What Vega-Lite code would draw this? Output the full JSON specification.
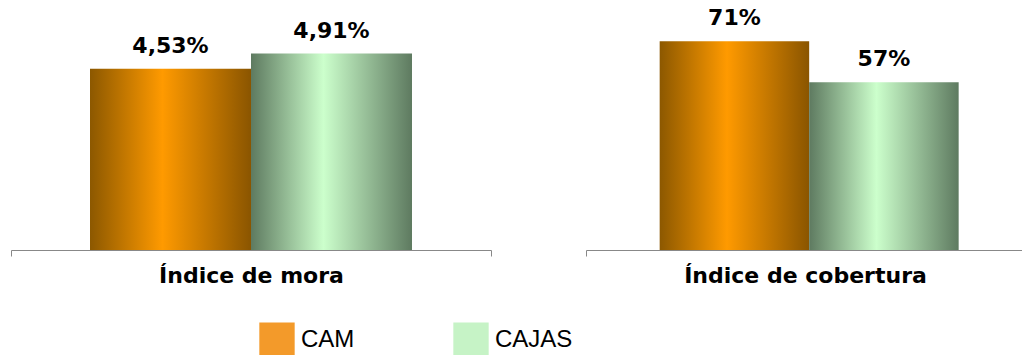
{
  "$schema": "https://vega.github.io/schema/vega-lite/v6.json",
  "padding": {"left": 10, "top": 7, "right": 0, "bottom": 0},
  "background": "white",
  "config": {"view": {"stroke": null}, "font": "DejaVu Sans"},
  "resolve": {"scale": {"x": "independent", "xOffset": "independent", "y": "independent"}},
  "data": {"values": [
    {"indicador": "Índice de mora", "serie": "CAM", "valor": 4.53, "etiqueta": "4,53%"},
    {"indicador": "Índice de mora", "serie": "CAJAS", "valor": 4.91, "etiqueta": "4,91%"},
    {"indicador": "Índice de cobertura", "serie": "CAM", "valor": 71, "etiqueta": "71%"},
    {"indicador": "Índice de cobertura", "serie": "CAJAS", "valor": 57, "etiqueta": "57%"}
  ]},
  "spacing": 93,
  "hconcat": [
    {
      "width": 480, "height": 240,
      "transform": [{"filter": "datum.indicador === 'Índice de mora'"}],
      "encoding": {
        "x": {"field": "indicador", "type": "nominal", "scale": {"paddingInner": 0, "paddingOuter": 0},
          "axis": {"title": null, "labelAngle": 0, "tickBand": "extent", "domainColor": "#888888", "tickColor": "#888888", "tickSize": 6, "labelFont": "DejaVu Sans", "labelFontWeight": "bold", "labelFontSize": 22, "labelColor": "#000000", "labelPadding": 9, "labelLimit": 400}},
        "xOffset": {"field": "serie", "type": "nominal", "sort": ["CAM", "CAJAS"], "scale": {"domain": ["CAM", "CAJAS"], "paddingInner": 0, "paddingOuter": 0.4907}},
        "y": {"field": "valor", "type": "quantitative", "scale": {"domain": [0, 6]}, "axis": null}
      },
      "layer": [
        {
          "mark": {"type": "bar"},
          "encoding": {
            "color": {
              "field": "serie", "type": "nominal",
              "scale": {"domain": ["CAM", "CAJAS"], "range": ["#f39a2a", "#c6f3c6"]},
              "condition": [
                {"test": "datum.serie === 'CAM'", "value": {"gradient": "linear", "x1": 0, "y1": 0, "x2": 1, "y2": 0, "stops": [{"offset": 0, "color": "#8c5800"}, {"offset": 0.45, "color": "#ff9a00"}, {"offset": 1, "color": "#8a5500"}]}},
                {"test": "datum.serie === 'CAJAS'", "value": {"gradient": "linear", "x1": 0, "y1": 0, "x2": 1, "y2": 0, "stops": [{"offset": 0, "color": "#5e7a60"}, {"offset": 0.45, "color": "#ccffcc"}, {"offset": 1, "color": "#5e7a60"}]}}
              ],
              "legend": {
                "orient": "none", "legendX": 248, "legendY": 312, "direction": "horizontal", "title": null,
                "symbolType": "square", "symbolSize": 1250, "symbolStrokeWidth": 0, "symbolOpacity": 1,
                "labelFont": "Liberation Sans", "labelFontSize": 24, "labelColor": "#000000", "labelOffset": 6,
                "columnPadding": 98,
                "encode": {"symbols": {"update": {"fill": [
                  {"test": "datum.value === 'CAM'", "value": {"gradient": "linear", "x1": 0, "y1": 0, "x2": 1, "y2": 0, "stops": [{"offset": 0, "color": "#c46e1a"}, {"offset": 0.5, "color": "#ff9a30"}, {"offset": 1, "color": "#c46e1a"}]}},
                  {"value": {"gradient": "linear", "x1": 0, "y1": 0, "x2": 1, "y2": 0, "stops": [{"offset": 0, "color": "#b5e6b5"}, {"offset": 0.5, "color": "#ccffcc"}, {"offset": 1, "color": "#b5e6b5"}]}}
                ]}}}
              }
            }
          }
        },
        {
          "mark": {"type": "text", "baseline": "alphabetic", "dy": -16, "fontSize": 22, "fontWeight": "bold", "font": "DejaVu Sans", "color": "#000000"},
          "encoding": {"text": {"field": "etiqueta", "type": "nominal"}}
        }
      ]
    },
    {
      "width": 438, "height": 240,
      "transform": [{"filter": "datum.indicador === 'Índice de cobertura'"}],
      "encoding": {
        "x": {"field": "indicador", "type": "nominal", "scale": {"paddingInner": 0, "paddingOuter": 0},
          "axis": {"title": null, "labelAngle": 0, "tickBand": "extent", "domainColor": "#888888", "tickColor": "#888888", "tickSize": 6, "labelFont": "DejaVu Sans", "labelFontWeight": "bold", "labelFontSize": 22, "labelColor": "#000000", "labelPadding": 9, "labelLimit": 400}},
        "xOffset": {"field": "serie", "type": "nominal", "sort": ["CAM", "CAJAS"], "scale": {"domain": ["CAM", "CAJAS"], "paddingInner": 0, "paddingOuter": 0.465, "align": 0.53}},
        "y": {"field": "valor", "type": "quantitative", "scale": {"domain": [0, 81.6]}, "axis": null}
      },
      "layer": [
        {
          "mark": {"type": "bar"},
          "encoding": {
            "color": {
              "field": "serie", "type": "nominal",
              "condition": [
                {"test": "datum.serie === 'CAM'", "value": {"gradient": "linear", "x1": 0, "y1": 0, "x2": 1, "y2": 0, "stops": [{"offset": 0, "color": "#8c5800"}, {"offset": 0.45, "color": "#ff9a00"}, {"offset": 1, "color": "#8a5500"}]}},
                {"test": "datum.serie === 'CAJAS'", "value": {"gradient": "linear", "x1": 0, "y1": 0, "x2": 1, "y2": 0, "stops": [{"offset": 0, "color": "#5e7a60"}, {"offset": 0.45, "color": "#ccffcc"}, {"offset": 1, "color": "#5e7a60"}]}}
              ]
            }
          }
        },
        {
          "mark": {"type": "text", "baseline": "alphabetic", "dy": -16, "fontSize": 22, "fontWeight": "bold", "font": "DejaVu Sans", "color": "#000000"},
          "encoding": {"text": {"field": "etiqueta", "type": "nominal"}}
        }
      ]
    }
  ]
}
